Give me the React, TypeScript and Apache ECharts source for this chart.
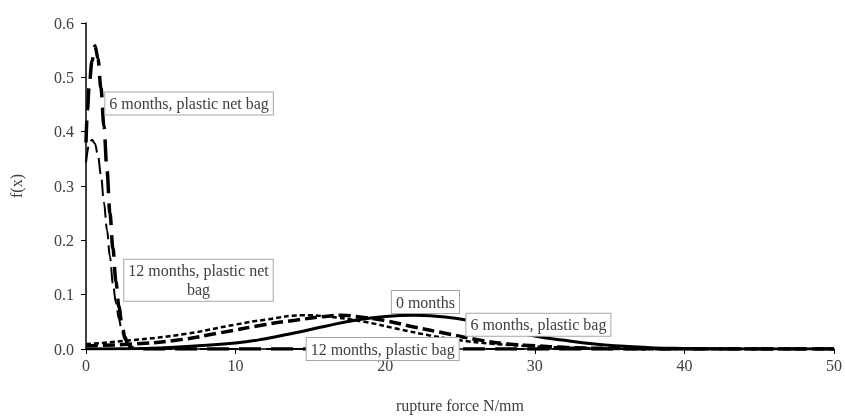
import React, { useEffect, useRef } from "react";
import * as echarts from "echarts";

const xTicks = [0, 10, 20, 30, 40, 50];
const yTicks = [0, 0.1, 0.2, 0.3, 0.4, 0.5, 0.6];

const months0: [number, number][] = [
  [0, 0], [3, 0.0005], [5, 0.002], [7, 0.005], [10, 0.011], [12, 0.019], [14, 0.03],
  [16, 0.042], [18, 0.053], [20, 0.06], [22, 0.062], [24, 0.059], [26, 0.05],
  [28, 0.037], [30, 0.024], [32, 0.016], [34, 0.009], [36, 0.005], [38, 0.002],
  [40, 0.001], [43, 0.0002], [46, 0], [50, 0],
];
const months6Bag: [number, number][] = [
  [0, 0.006], [3, 0.009], [6, 0.016], [9, 0.03], [12, 0.045], [14, 0.053], [16, 0.06],
  [17, 0.062], [18, 0.06], [20, 0.052], [22, 0.04], [24, 0.029], [26, 0.018],
  [28, 0.01], [30, 0.006], [32, 0.003], [35, 0.001], [40, 0], [50, 0],
];
const months12Bag: [number, number][] = [
  [0, 0.009], [3, 0.016], [6.7, 0.028], [10, 0.045], [12, 0.054], [14.6, 0.062],
  [16, 0.06], [18.6, 0.05], [21, 0.036], [23, 0.025], [25, 0.016], [27, 0.01],
  [30, 0.005], [33, 0.002], [36, 0.0005], [40, 0], [50, 0],
];
const months6Net: [number, number][] = [
  [0, 0.38], [0.1, 0.44], [0.2, 0.48], [0.4, 0.53], [0.6, 0.558], [0.8, 0.535],
  [1.0, 0.48], [1.2, 0.41], [1.4, 0.33], [1.6, 0.25], [1.8, 0.185], [2.0, 0.125],
  [2.2, 0.078], [2.4, 0.045], [2.6, 0.022], [2.8, 0.009], [3.0, 0.003], [3.4, 0],
  [10, 0], [50, 0],
];
const months12Net: [number, number][] = [
  [0, 0.343], [0.2, 0.375], [0.4, 0.385], [0.6, 0.378], [0.8, 0.356], [1.0, 0.32],
  [1.2, 0.27], [1.4, 0.22], [1.6, 0.17], [1.8, 0.12], [2.0, 0.085], [2.2, 0.055],
  [2.4, 0.032], [2.6, 0.017], [2.8, 0.008], [3.0, 0.003], [3.4, 0], [10, 0], [50, 0],
];

const labels: { text: string; x: number; y: number }[] = [
  { text: "6 months, plastic net bag", x: 6.89, y: 0.452 },
  { text: "12 months, plastic net\nbag", x: 7.52, y: 0.1266 },
  { text: "0 months", x: 22.69, y: 0.0864 },
  { text: "6 months, plastic bag", x: 30.24, y: 0.0446 },
  { text: "12 months, plastic bag", x: 19.83, y: 0.0 },
];

const FONT = '"Liberation Serif", "Times New Roman", serif';

export default function App() {
  const ref = useRef<HTMLDivElement>(null);
  useEffect(() => {
    if (!ref.current) return;
    const chart = echarts.init(ref.current, undefined, { renderer: "svg" });
    const mk = (name: string, data: [number, number][], width: number, type: any, sharp: boolean) => ({
      name,
      type: "line",
      data,
      showSymbol: false,
      smooth: sharp ? 0.35 : 0.5,
      smoothMonotone: sharp ? "x" : undefined,
      lineStyle: { color: "#000", width, type, cap: "butt" },
      z: 3,
    });
    chart.setOption({
      animation: false,
      textStyle: { fontFamily: FONT },
      grid: { left: 83, right: 10, top: 23, bottom: 58, containLabel: false },
      xAxis: {
        type: "value",
        min: 0,
        max: 50,
        interval: 10,
        name: "rupture force N/mm",
        nameLocation: "middle",
        nameGap: 48,
        nameTextStyle: { fontFamily: FONT, fontSize: 16, color: "#404040" },
        axisLine: { show: true, onZero: false, lineStyle: { color: "#000", width: 1.5 } },
        axisTick: { show: true, length: 5, lineStyle: { color: "#000" } },
        axisLabel: { fontFamily: FONT, fontSize: 16, color: "#404040", margin: 8 },
        splitLine: { show: false },
      },
      yAxis: {
        type: "value",
        min: 0,
        max: 0.6,
        interval: 0.1,
        name: "f(x)",
        nameLocation: "middle",
        nameGap: 62,
        nameTextStyle: { fontFamily: FONT, fontSize: 16, color: "#404040" },
        axisLine: { show: true, lineStyle: { color: "#000", width: 1.5 } },
        axisTick: { show: true, length: 5, lineStyle: { color: "#000" } },
        axisLabel: {
          fontFamily: FONT,
          fontSize: 16,
          color: "#404040",
          margin: 12,
          formatter: (v: number) => v.toFixed(1),
        },
        splitLine: { show: false },
      },
      series: [
        mk("0 months", months0, 3, "solid", false),
        mk("6 months, plastic bag", months6Bag, 3.5, [12, 5], false),
        mk("12 months, plastic bag", months12Bag, 2.5, [5, 3], false),
        mk("6 months, plastic net bag", months6Net, 3.5, [22, 10], true),
        mk("12 months, plastic net bag", months12Net, 2, [16, 6], true),
      ],
    });
    const graphic: any[] = labels.map((l) => {
      const p = chart.convertToPixel({ gridIndex: 0 }, [l.x, l.y]) as number[];
      return {
        type: "text",
        x: p[0],
        y: p[1],
        z: 10,
        style: {
          text: l.text,
          font: `16px ${FONT}`,
          fill: "#404040",
          align: "center",
          verticalAlign: "middle",
          backgroundColor: "#fff",
          borderColor: "#a6a6a6",
          borderWidth: 1,
          padding: [2, 4, 1, 4],
          lineHeight: 19,
        },
      };
    });
    chart.setOption({ graphic });
    return () => chart.dispose();
  }, []);
  return (
    <div
      ref={ref}
      style={{ position: "fixed", left: 0, top: 0, width: 845, height: 418 }}
    />
  );
}
